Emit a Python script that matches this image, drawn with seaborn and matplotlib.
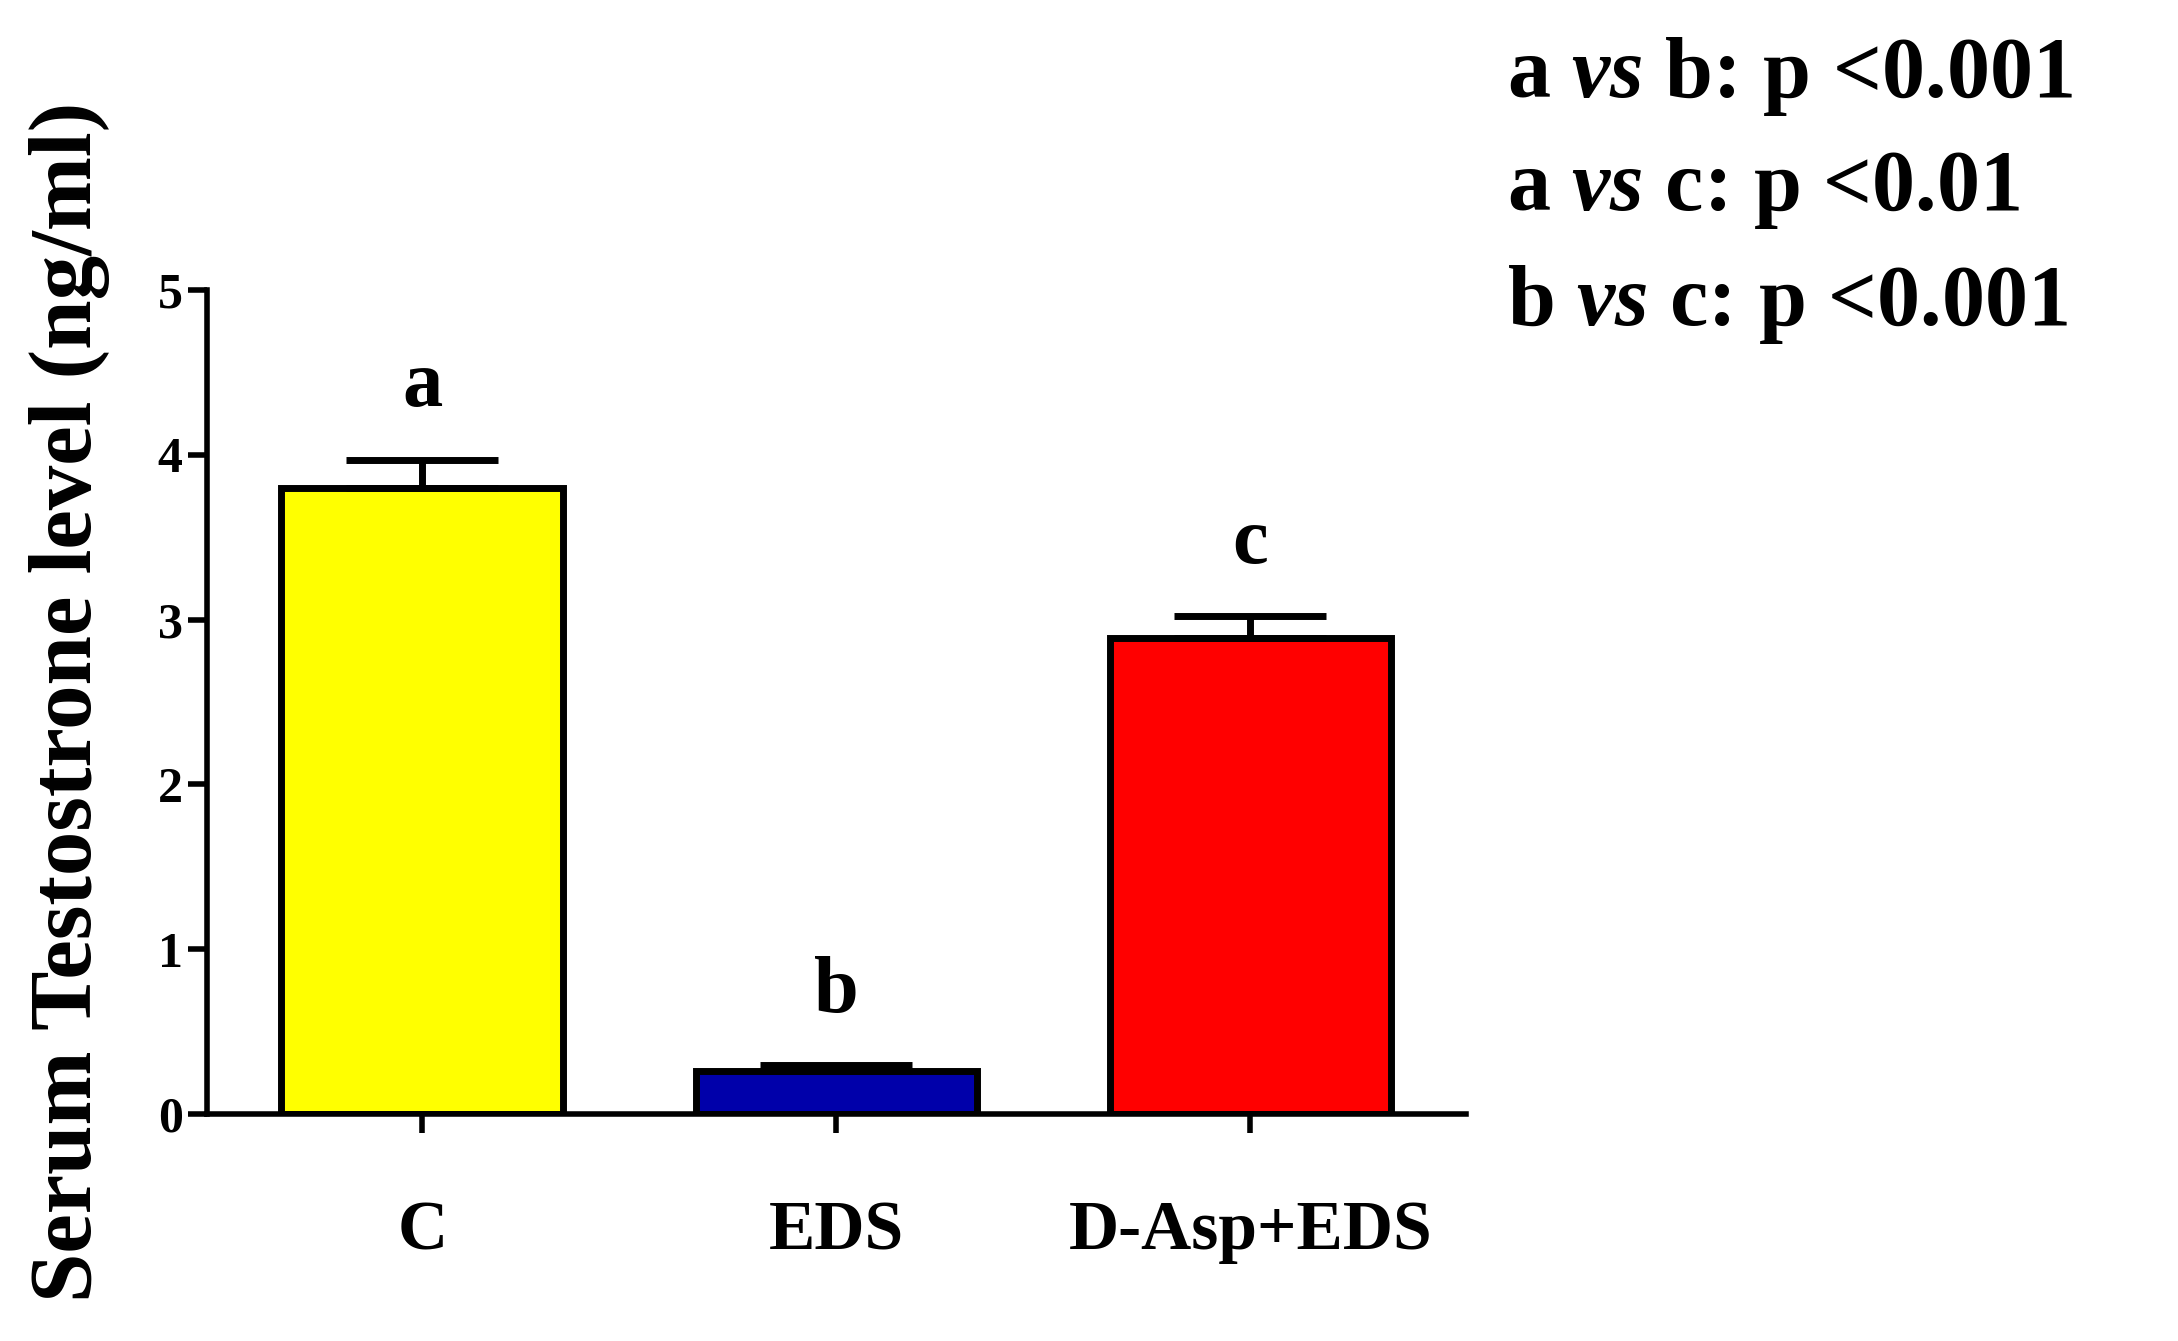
import seaborn as sns
import pandas as pd
import matplotlib.pyplot as plt

groups = ["C", "EDS", "D-Asp+EDS"]
means = [3.80, 0.26, 2.89]
sem = [0.17, 0.04, 0.13]
colors = ["#FFFF00", "#0000AA", "#FF0000"]
letters = ["a", "b", "c"]

df = pd.DataFrame({"group": groups, "mean": means})

sns.set_theme(style="ticks")
plt.rcParams["font.family"] = ["Liberation Serif", "DejaVu Serif"]
plt.rcParams["font.weight"] = "bold"
plt.rcParams["text.color"] = "black"
plt.rcParams["axes.labelcolor"] = "black"
plt.rcParams["xtick.color"] = "black"
plt.rcParams["ytick.color"] = "black"
plt.rcParams["mathtext.fontset"] = "custom"
plt.rcParams["mathtext.it"] = "Liberation Serif:italic:bold"
plt.rcParams["mathtext.rm"] = "Liberation Serif:bold"

fig = plt.figure(figsize=(21.78, 13.41), dpi=100)
ax = fig.add_axes([0.095, 0.169, 0.578, 0.615])

sns.barplot(data=df, x="group", y="mean", hue="group", palette=colors,
            saturation=1, legend=False, width=0.68, edgecolor="black",
            linewidth=5, ax=ax)
ax.errorbar(range(3), means, yerr=[[0, 0, 0], sem], fmt="none",
            ecolor="black", elinewidth=5, capsize=55, capthick=5, zorder=1)

for i, (m, s, l) in enumerate(zip(means, sem, letters)):
    ax.text(i, m + s + 0.22, l, ha="center", va="bottom",
            fontsize=58, fontweight="bold")

ax.set_ylim(0, 5)
ax.set_xlim(-0.52, 2.52)
ax.set_yticks([0, 1, 2, 3, 4, 5])
ax.set_xlabel("")
ax.set_ylabel("Serum Testostrone level (ng/ml)", fontsize=64,
              fontweight="bold", labelpad=34)
ax.tick_params(axis="y", labelsize=36, width=4, length=14)
ax.tick_params(axis="x", labelsize=50, width=4, length=14, pad=48)
for lab in ax.get_xticklabels() + ax.get_yticklabels():
    lab.set_fontweight("bold")
sns.despine(ax=ax)
for sp in ["left", "bottom"]:
    ax.spines[sp].set_linewidth(4)
    ax.spines[sp].set_color("black")

lines = [("a", "b", "p <0.001"), ("a", "c", "p <0.01"), ("b", "c", "p <0.001")]
for k, (p, q, pv) in enumerate(lines):
    fig.text(0.692, 0.943 - k * 0.085,
             rf"{p} $\mathit{{vs}}$ {q}: {pv}", fontsize=62, fontweight="bold",
             va="center", ha="left")

fig.savefig("out.png")
